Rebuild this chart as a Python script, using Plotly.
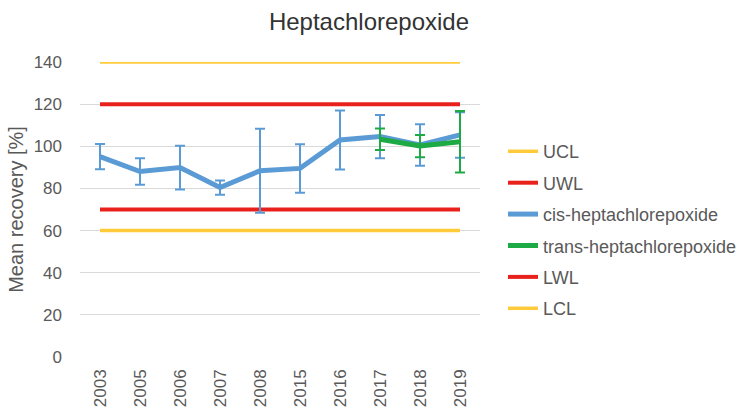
import plotly.graph_objects as go

years = ["2003", "2005", "2006", "2007", "2008", "2015", "2016", "2017", "2018", "2019"]
cis_mean = [95.1, 88.0, 89.9, 80.4, 88.4, 89.5, 103.0, 104.6, 100.6, 105.4]
cis_err = [6.0, 6.3, 10.4, 3.4, 19.9, 11.5, 14.0, 10.3, 9.8, 10.8]
trans_years = ["2017", "2018", "2019"]
trans_mean = [103.3, 100.1, 102.2]
trans_err = [5.1, 5.3, 14.6]
ucl, uwl, lwl, lcl = 140, 120, 70, 60
y_ticks = [0, 20, 40, 60, 80, 100, 120, 140]

YELLOW = "#FFCB3A"
RED = "#E8211C"
BLUE = "#5B9BD5"
GREEN = "#1DAA45"
FONT = "Liberation Sans, Arial, sans-serif"

fig = go.Figure()

def limit_trace(name, val, color, rank, width):
    return go.Scatter(x=years, y=[val] * len(years), mode="lines", name=name,
                      line=dict(color=color, width=width), legendrank=rank,
                      legendgroup=name, hoverinfo="skip")

fig.add_trace(limit_trace("UCL", ucl, YELLOW, 1, 3.5))
fig.add_trace(limit_trace("UWL", uwl, RED, 2, 4))
fig.add_trace(limit_trace("LWL", lwl, RED, 5, 4))
fig.add_trace(limit_trace("LCL", lcl, YELLOW, 6, 3.5))

fig.add_trace(go.Scatter(x=years, y=cis_mean, mode="lines", name="cis-heptachlorepoxide",
                         line=dict(color=BLUE, width=5), legendrank=3, legendgroup="cis",
                         error_y=dict(type="data", array=cis_err, visible=True,
                                      color=BLUE, thickness=2, width=5)))
fig.add_trace(go.Scatter(x=trans_years, y=trans_mean, mode="lines", name="trans-heptachlorepoxide",
                         line=dict(color=GREEN, width=5), legendrank=4, legendgroup="trans",
                         error_y=dict(type="data", array=trans_err, visible=True,
                                      color=GREEN, thickness=2, width=5)))

fig.update_layout(
    width=748, height=408,
    margin=dict(l=80, r=268, t=62, b=51, autoexpand=False),
    paper_bgcolor="white", plot_bgcolor="white",
    font=dict(family=FONT, size=17, color="#595959"),
    title=dict(text="Heptachlorepoxide", x=369 / 748, xanchor="center", xref="container",
               y=(408 - 22) / 408, yanchor="middle", yref="container",
               font=dict(size=24, color="#333333", family=FONT)),
    legend=dict(x=1.0575, xanchor="left", y=0.759, yanchor="top",
                traceorder="grouped", tracegroupgap=5,
                font=dict(size=18, color="#595959", family=FONT),
                bgcolor="rgba(0,0,0,0)"),
    showlegend=True,
)
fig.update_xaxes(type="category", categoryorder="array", categoryarray=years,
                 range=[-0.5, 9.5], showgrid=False, showline=False, ticks="",
                 tickangle=-90, ticklabelstandoff=8, automargin=False,
                 tickfont=dict(size=17, color="#595959"))
fig.update_yaxes(range=[0, 140], tickvals=y_ticks, showgrid=True, gridcolor="#D9D9D9",
                 gridwidth=1, zeroline=False, showline=False, ticks="",
                 ticklabelstandoff=17, automargin=False,
                 tickfont=dict(size=17, color="#595959"),
                 title=dict(text="Mean recovery [%]", font=dict(size=20, color="#595959"),
                            standoff=4))

fig.write_html("out.html", config={"displayModeBar": False},
               post_script="document.body.style.margin='0';document.body.style.overflow='hidden';")
